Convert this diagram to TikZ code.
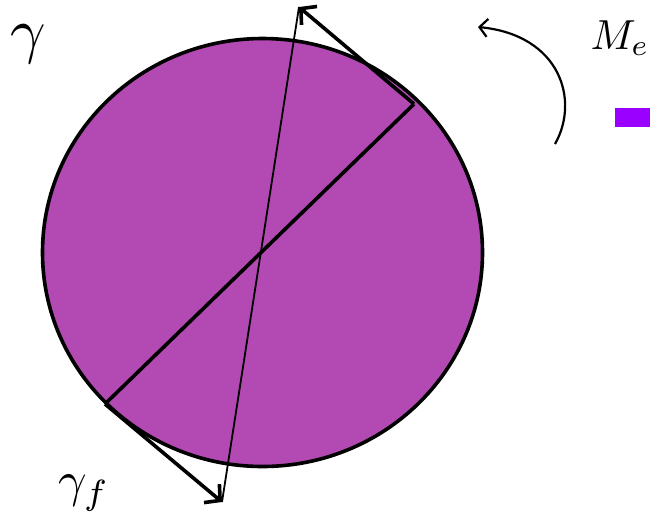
\documentclass[tikz,border=0pt]{standalone}
\usetikzlibrary{arrows.meta}
\definecolor{discfill}{HTML}{B34AB3}
\definecolor{markfill}{HTML}{9A00FF}
\tikzset{
  thick line/.style={line width=3.6pt},
  thin line/.style={line width=1.8pt},
  bigarrow/.style={line width=3.6pt,-{Straight Barb[length=11pt,width=24pt,line width=3.6pt]}},
  smallarrow/.style={line width=2.2pt,-{Straight Barb[length=8pt,width=18pt,line width=2.2pt]}},
  lbl/.style={inner sep=0pt}
}
\begin{document}
\begin{tikzpicture}[x=1pt,y=-1pt]
\useasboundingbox (0,0) rectangle (650,523);
\fill[discfill,draw=black,thick line] (262.5,252.5) ellipse [x radius=220,y radius=214];
\coordinate (dA) at (414,104);
\coordinate (dB) at (105,404);
\coordinate (tT) at (299,7);
\coordinate (tB) at (222,502);
\coordinate (cS) at (555,144);
\coordinate (cE) at (478,27);
\draw[thick line] (dA) -- (dB);
\draw[thin line] (tT) -- (tB);
\draw[bigarrow] (dA) -- (tT);
\draw[bigarrow] (dB) -- (tB);
\draw[smallarrow] (cS) .. controls (580,100) and (560,35) .. (cE);
\node[lbl,scale=6.2] (g) at (28,44) {$\gamma$};
\node[lbl,scale=5.0] (gf) at (84,493) {$\gamma_f$};
\node[lbl,scale=4.2] (me) at (620,38) {$M_e$};
\fill[markfill] (615,108) rectangle (650,127);
\end{tikzpicture}
\end{document}
